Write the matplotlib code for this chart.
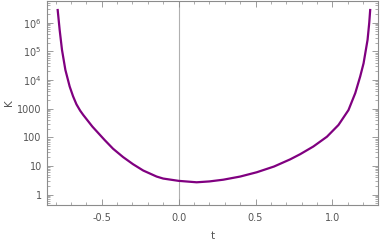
import numpy as np
import matplotlib
matplotlib.use("Agg")
from matplotlib import pyplot as plt
from matplotlib.ticker import FixedLocator, MultipleLocator, FuncFormatter, NullFormatter

# values (t, log10 K)
t = [-0.786, -0.773, -0.758, -0.736, -0.708, -0.686, -0.664, -0.640, -0.620,
     -0.560, -0.480, -0.426, -0.361, -0.296, -0.230, -0.143, -0.100, 0.0,
     0.117, 0.20, 0.29, 0.40, 0.508, 0.62, 0.725, 0.79, 0.876, 0.964,
     1.039, 1.104, 1.148, 1.180, 1.202, 1.228, 1.239, 1.245]
logK = [6.44, 5.74, 5.05, 4.35, 3.77, 3.43, 3.15, 2.93, 2.78,
        2.37, 1.90, 1.60, 1.31, 1.06, 0.84, 0.63, 0.56, 0.48,
        0.43, 0.46, 0.52, 0.63, 0.78, 0.98, 1.23, 1.41, 1.68, 2.02,
        2.43, 2.95, 3.54, 4.12, 4.58, 5.40, 6.00, 6.44]
K = 10.0 ** np.array(logK)

ytick_vals = [1, 10, 100, 1000, 1e4, 1e5, 1e6]
ytick_labels = ["1", "10", "100", "1000", "$10^4$", "$10^5$", "$10^6$"]

gray = "#8c8c8c"
txt = "#555555"

fig = plt.figure(figsize=(3.82, 2.43), dpi=100)
ax = fig.add_axes([0.122, 0.158, 0.868, 0.838])

ax.axvline(0, color="#b0b0b0", lw=0.8, zorder=1)
ax.plot(t, K, color="#800080", lw=1.6, zorder=3, solid_joinstyle="round")

ax.set_yscale("log")
ax.set_xlim(-0.858, 1.297)
ax.set_ylim(0.448, 5.7e6)

ax.xaxis.set_major_locator(MultipleLocator(0.5))
ax.xaxis.set_minor_locator(MultipleLocator(0.1))
ax.yaxis.set_major_locator(FixedLocator(ytick_vals))
ax.yaxis.set_major_formatter(FuncFormatter(lambda v, p: ytick_labels[ytick_vals.index(v)] if v in ytick_vals else ""))
ax.yaxis.set_minor_formatter(NullFormatter())
ax.xaxis.set_major_formatter(FuncFormatter(lambda v, p: "%.1f" % v if abs(v) > 1e-9 else "0.0"))

for s in ax.spines.values():
    s.set_color(gray)
    s.set_linewidth(0.8)
ax.tick_params(which="both", direction="in", top=True, right=True, color=gray,
               labelcolor=txt, labelsize=7)
ax.tick_params(which="major", length=4, width=0.6)
ax.tick_params(which="minor", length=2, width=0.5)
ax.tick_params(axis="x", pad=6)

ax.set_xlabel("t", color=txt, fontsize=7.5, labelpad=6)
ax.set_ylabel("K", color=txt, fontsize=7.5, labelpad=2)

fig.savefig("out.png", dpi=100)
